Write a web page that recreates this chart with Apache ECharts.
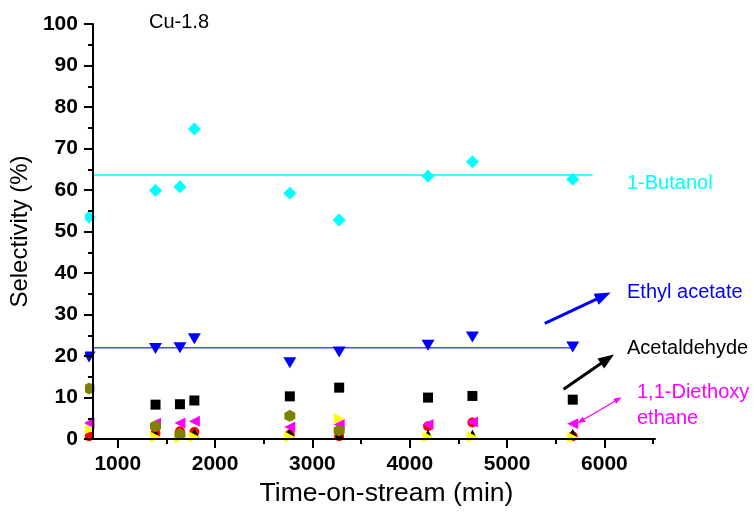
<!DOCTYPE html>
<html><head><meta charset="utf-8">
<script src="https://cdn.jsdelivr.net/npm/echarts@6/dist/echarts.min.js"></script>
<style>html,body{margin:0;padding:0;background:#fff}#c{width:754px;height:512px}</style>
</head><body><div id="c"></div><script>
// ---- data ----
const timeMin        = [705, 1388, 1639, 1787, 2768, 3275, 4188, 4644, 5675];
const butanol        = [53.5, 59.9, 60.8, 74.7, 59.2, 52.8, 63.4, 66.8, 62.6];
const ethylAcetate   = [19.8, 21.8, 22.0, 24.2, 18.4, 21.0, 22.6, 24.6, 22.2];
const acetaldehyde   = [null, 8.3, 8.4, 9.3, 10.3, 12.4, 10.0, 10.4, 9.5];
const diethoxyethane = [3.9, 3.8, 3.9, 4.3, 2.9, 3.5, 3.5, 4.1, 3.7];
const redProduct     = [0.7, 1.4, 1.9, 1.7, 1.1, 0.7, 3.1, 4.0, 0.7];
const blackTriProduct= [null, 1.2, 1.0, 1.4, 1.5, 1.0, 1.1, 1.1, 1.3];
const yellowProduct  = [2.3, 0.5, 0.3, 0.5, 0.5, 4.9, 0.5, 0.5, 0.4];
const oliveProduct   = [12.2, 3.1, 1.2, null, 5.6, 2.1, null, null, null];
const butanolAvgLine = [[745, 63.6], [5880, 63.6]];
const ethylAvgLine   = [[745, 22.0], [5680, 22.0]];
const arrowEthyl     = [[5388, 27.9], [5990, 34.5]];
const arrowAcet      = [[5581, 12.0], [6031, 19.3]];
const arrowDiethoxy  = [[5757, 4.3], [6142, 9.6]];
const xRange         = [745, 6520];
const xMajorTicks    = [1000, 2000, 3000, 4000, 5000, 6000];
const xMinorTicks    = [1500, 2500, 3500, 4500, 5500, 6500];
const yRange         = [0, 100];

const FONT = 'Liberation Sans, Arial, sans-serif';
const pairs = vals => timeMin.map((t, i) => [t, vals[i]]).filter(p => p[1] != null);

const HEX = 'path://M5,0 L10,2.9 L10,8.7 L5,11.5 L0,8.7 L0,2.9 Z';
const LEFT_TRI = 'path://M0,5 L10,0 L10,10 Z';
const RIGHT_TRI = 'path://M10,5 L0,0 L0,10 Z';
const DOWN_TRI = 'path://M0,0 L10,0 L5,9 Z';

function sc(name, vals, symbol, size, color) {
  return { name, type: 'scatter', data: pairs(vals), symbol, symbolSize: size, clip: false,
    itemStyle: { color, opacity: 1 }, emphasis: { disabled: true }, silent: true };
}

const chart = echarts.init(document.getElementById('c'), null, { renderer: 'canvas' });
chart.setOption({
  animation: false,
  backgroundColor: '#fff',
  grid: { left: 85, right: 99, top: 24, bottom: 69, containLabel: false },
  xAxis: [{
    type: 'value', min: xRange[0], max: xRange[1], zlevel: 2, z: 10,
    axisLine: { show: true, lineStyle: { color: '#000', width: 2 } },
    axisTick: { show: true, customValues: xMajorTicks, length: 9, lineStyle: { color: '#000', width: 2 } },
    axisLabel: { customValues: xMajorTicks, formatter: v => String(v), fontFamily: FONT, fontWeight: 'bold', fontSize: 21, color: '#000', margin: 15 },
    splitLine: { show: false },
    name: 'Time-on-stream (min)', nameLocation: 'middle', nameGap: 39,
    nameTextStyle: { fontFamily: FONT, fontSize: 26.5, color: '#000', padding: [0, 0, 0, 25] }
  }, {
    type: 'value', min: xRange[0], max: xRange[1], position: 'bottom', zlevel: 2, z: 10,
    axisLine: { show: false },
    axisTick: { show: true, customValues: xMinorTicks, length: 5, lineStyle: { color: '#000', width: 2 } },
    axisLabel: { show: false }, splitLine: { show: false }
  }],
  yAxis: {
    type: 'value', min: yRange[0], max: yRange[1], interval: 10, zlevel: 2, z: 10,
    axisLine: { show: true, lineStyle: { color: '#000', width: 2 } },
    axisTick: { show: true, length: 9, lineStyle: { color: '#000', width: 2 } },
    minorTick: { show: true, splitNumber: 2, length: 5, lineStyle: { color: '#000', width: 2 } },
    splitLine: { show: false },
    axisLabel: { fontFamily: FONT, fontWeight: 'bold', fontSize: 21, color: '#000', margin: 15 },
    name: 'Selectivity (%)', nameLocation: 'middle', nameRotate: 90, nameGap: 49,
    nameTextStyle: { fontFamily: FONT, fontSize: 24, color: '#000' }
  },
  series: [
    { type: 'line', data: butanolAvgLine, showSymbol: false, lineStyle: { color: '#00ffff', width: 1.5 }, silent: true, z: 1 },
    { type: 'line', data: ethylAvgLine, showSymbol: false, lineStyle: { color: '#4050ff', width: 1.5 }, silent: true, z: 1 },
    sc('Acetaldehyde', acetaldehyde, 'rect', 10, '#000000'),
    sc('red', redProduct, 'circle', 10, '#ff0000'),
    sc('blacktri', blackTriProduct, 'triangle', 10, '#000000'),
    sc('Ethyl acetate', ethylAcetate, DOWN_TRI, [13, 11], '#0000ff'),
    sc('1-Butanol', butanol, 'diamond', 13, '#00ffff'),
    sc('1,1-Diethoxy ethane', diethoxyethane, LEFT_TRI, [11, 11], '#ff00ff'),
    sc('yellow', yellowProduct, RIGHT_TRI, [11, 11], '#ffff00'),
    sc('olive', oliveProduct, HEX, [11, 12], '#808000'),
    {
      type: 'scatter', data: [], silent: true,
      markLine: {
        silent: true, animation: false, label: { show: false }, emphasis: { disabled: true },
        data: [
          [{ coord: arrowEthyl[0], symbol: 'none', lineStyle: { color: '#0000ff', width: 3, type: 'solid' } },
           { coord: arrowEthyl[1], symbol: 'triangle', symbolSize: [12, 16] }],
          [{ coord: arrowAcet[0], symbol: 'none', lineStyle: { color: '#000000', width: 3, type: 'solid' } },
           { coord: arrowAcet[1], symbol: 'triangle', symbolSize: [12, 16] }],
          [{ coord: arrowDiethoxy[0], symbol: 'triangle', symbolSize: [6, 8], lineStyle: { color: '#ff00ff', width: 1.3, type: 'solid' } },
           { coord: arrowDiethoxy[1], symbol: 'triangle', symbolSize: [6, 8] }]
        ]
      }
    }
  ],
  graphic: { elements: [
    { type: 'rect', shape: { x: 0, y: 0, width: 85, height: 512 }, style: { fill: '#fff' }, zlevel: 1, z: 50, silent: true },
    { type: 'rect', shape: { x: 0, y: 444, width: 754, height: 68 }, style: { fill: '#fff' }, zlevel: 1, z: 50, silent: true },
    { type: 'text', x: 149, y: 22, zlevel: 2, z: 60, style: { text: 'Cu-1.8', fontFamily: FONT, fontSize: 20, fill: '#000', verticalAlign: 'middle' } },
    { type: 'text', x: 627, y: 183, zlevel: 2, z: 60, style: { text: '1-Butanol', fontFamily: FONT, fontSize: 20, fill: '#00ffff', verticalAlign: 'middle' } },
    { type: 'text', x: 627, y: 292, zlevel: 2, z: 60, style: { text: 'Ethyl acetate', fontFamily: FONT, fontSize: 20, fill: '#0000ff', verticalAlign: 'middle' } },
    { type: 'text', x: 627, y: 348, zlevel: 2, z: 60, style: { text: 'Acetaldehyde', fontFamily: FONT, fontSize: 20, fill: '#000', verticalAlign: 'middle' } },
    { type: 'text', x: 637, y: 392, zlevel: 2, z: 60, style: { text: '1,1-Diethoxy', fontFamily: FONT, fontSize: 20, fill: '#ff00ff', verticalAlign: 'middle' } },
    { type: 'text', x: 637, y: 418, zlevel: 2, z: 60, style: { text: 'ethane', fontFamily: FONT, fontSize: 20, fill: '#ff00ff', verticalAlign: 'middle' } }
  ] }
});
</script></body></html>
